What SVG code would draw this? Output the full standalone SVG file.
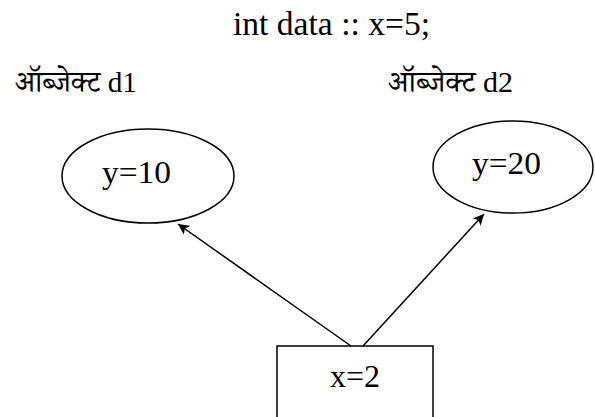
<svg xmlns="http://www.w3.org/2000/svg" width="595" height="417" viewBox="0 0 595 417">
<defs>
<style>
text{font-family:"Liberation Serif","Noto Serif Devanagari","Noto Sans Devanagari","Noto Sans",serif;fill:#000}
.lbl{font-size:30px}
.node{font-size:32px}
.shape{fill:#fff;stroke:#000;stroke-width:1.5}
.conn{stroke:#000;stroke-width:1.5;fill:none}
</style>
<marker id="ah" viewBox="0 0 10 10" refX="10" refY="5" markerWidth="11" markerHeight="11" markerUnits="userSpaceOnUse" orient="auto">
<path d="M0,0 L10,5 L0,10 L2.5,5 z" fill="#000"/>
</marker>
</defs>
<text x="233" y="35" font-size="33" textLength="197" lengthAdjust="spacingAndGlyphs">int data :: x=5;</text>
<text class="lbl" x="15" y="92" textLength="122" lengthAdjust="spacingAndGlyphs">ऑब्जेक्ट d1</text>
<text class="lbl" x="388" y="92" textLength="125" lengthAdjust="spacingAndGlyphs">ऑब्जेक्ट d2</text>
<g id="node-d1">
<ellipse class="shape" cx="148" cy="176" rx="86" ry="47"/>
<text class="node" x="102" y="183" textLength="69" lengthAdjust="spacingAndGlyphs">y=10</text>
</g>
<g id="node-d2">
<ellipse class="shape" cx="513" cy="167" rx="80" ry="46"/>
<text class="node" x="472" y="174" textLength="69" lengthAdjust="spacingAndGlyphs">y=20</text>
</g>
<g id="node-x">
<rect class="shape" x="277" y="346" width="156" height="80"/>
<text class="node" x="330" y="387" textLength="50" lengthAdjust="spacingAndGlyphs">x=2</text>
</g>
<g id="connectors">
<line class="conn" x1="351" y1="346" x2="178" y2="224" marker-end="url(#ah)"/>
<line class="conn" x1="363" y1="346" x2="484" y2="214" marker-end="url(#ah)"/>
</g>
</svg>
